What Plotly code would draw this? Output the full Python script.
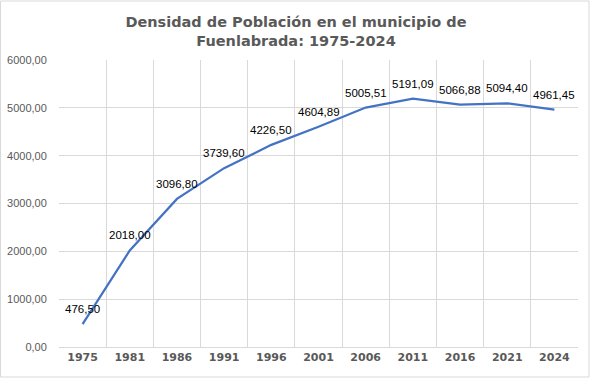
import plotly.graph_objects as go

years = ["1975", "1981", "1986", "1991", "1996", "2001", "2006", "2011", "2016", "2021", "2024"]
density = [476.50, 2018.00, 3096.80, 3739.60, 4226.50, 4604.89, 5005.51, 5191.09, 5066.88, 5094.40, 4961.45]
y_ticks = [0, 1000, 2000, 3000, 4000, 5000, 6000]

def fmt(v):
    return f"{v:.2f}".replace(".", ",")

fig = go.Figure()
fig.add_trace(go.Scatter(x=years, y=density, mode="lines",
                         line=dict(color="#4472C4", width=2.25), hoverinfo="skip"))

for i, v in enumerate(density):
    fig.add_annotation(x=i, y=v, xref="x", yref="y", text=fmt(v), showarrow=False, yshift=15,
                       font=dict(family="Liberation Sans", size=11.5, color="#000000"))

W, H = 592, 378
L, R, T, B = 59, 14, 60, 31
pw, ph = W - L - R, H - T - B
fig.add_shape(type="rect", xref="paper", yref="paper",
              x0=(0.5 - L) / pw, x1=(589 - L) / pw,
              y0=(H - B - 377) / ph, y1=(H - B - 1) / ph,
              line=dict(color="#D9D9D9", width=1), fillcolor="rgba(0,0,0,0)", layer="above")

fig.update_layout(
    width=W, height=H,
    margin=dict(l=L, r=R, t=T, b=B, autoexpand=False),
    paper_bgcolor="white", plot_bgcolor="white",
    separators=",.",
    showlegend=False,
    title=dict(text="Densidad de Población en el municipio de<br>Fuenlabrada: 1975-2024",
               x=0.5, xanchor="center", y=1 - 27 / H, yanchor="middle", automargin=False,
               font=dict(family="DejaVu Sans", size=14.5, color="#595959", weight="bold")),
    xaxis=dict(type="category", tickson="boundaries", showgrid=True, gridcolor="#D9D9D9",
               showline=True, linecolor="#D9D9D9", ticks="", automargin=False,
               tickfont=dict(family="DejaVu Sans", size=11, color="#595959", weight="bold"),
               range=[-0.5, 10.5], fixedrange=True),
    yaxis=dict(range=[0, 6000], tickvals=y_ticks, tickformat=".2f", automargin=False,
               showgrid=True, gridcolor="#D9D9D9", zeroline=False, showline=False,
               tickfont=dict(family="Liberation Sans", size=11, color="#595959"),
               ticks="outside", ticklen=9, tickcolor="white", fixedrange=True),
)

fig.write_html("out.html", config={"displayModeBar": False, "staticPlot": True},
               post_script="document.body.style.margin='0';")
